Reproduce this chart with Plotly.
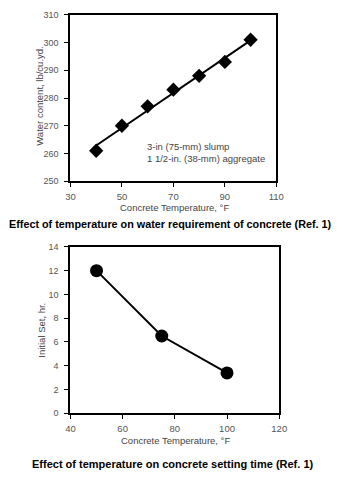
import plotly.graph_objects as go

# Top chart: water requirement
temp_water = [40, 50, 60, 70, 80, 90, 100]
water_content = [261, 270, 277, 283, 288, 293, 301]
trend_x = [40, 100]
trend_y = [262.9, 300.8]

# Bottom chart: setting time
temp_set = [50, 75, 100]
initial_set = [12, 6.5, 3.4]

FONT = "Liberation Sans, Arial, sans-serif"
TICKC = "#555555"

fig = go.Figure()
fig.add_trace(go.Scatter(x=trend_x, y=trend_y, mode="lines",
                         line=dict(color="black", width=2), xaxis="x", yaxis="y",
                         showlegend=False, hoverinfo="skip"))
fig.add_trace(go.Scatter(x=temp_water, y=water_content, mode="markers",
                         marker=dict(symbol="diamond", size=11, color="black"),
                         xaxis="x", yaxis="y", showlegend=False))
fig.add_trace(go.Scatter(x=temp_set, y=initial_set, mode="lines+markers",
                         line=dict(color="black", width=2),
                         marker=dict(symbol="circle", size=13, color="black"),
                         xaxis="x2", yaxis="y2", showlegend=False))

ax_common = dict(showline=True, linewidth=2, linecolor="black", mirror=True,
                 ticks="outside", ticklen=4, tickcolor="black", tickwidth=1,
                 showgrid=False, zeroline=False)
xfont = dict(family=FONT, size=9.5, color=TICKC)
yfont = dict(family=FONT, size=9, color=TICKC)

fig.update_layout(
    width=344, height=480,
    margin=dict(l=0, r=0, t=0, b=0),
    paper_bgcolor="white", plot_bgcolor="white",
    xaxis=dict(domain=[68/344, 282/344], range=[30, 110], tickvals=[30, 50, 70, 90, 110],
               anchor="y", ticklabelstandoff=1, tickfont=xfont, **ax_common),
    yaxis=dict(domain=[1-180/480, 1-10/480], range=[250, 310], dtick=10,
               anchor="x", ticklabelstandoff=4, tickfont=yfont, **ax_common),
    xaxis2=dict(domain=[68/344, 285/344], range=[40, 120], dtick=20,
                anchor="y2", ticklabelstandoff=1, tickfont=xfont, **ax_common),
    yaxis2=dict(domain=[1-417/480, 1-247/480], range=[0, 14], dtick=2,
                anchor="x2", ticklabelstandoff=4, tickfont=yfont, **ax_common),
)

def ann(text, x, y, size=9.5, color="#444444", bold=False, angle=0, xanchor="center"):
    fig.add_annotation(text=("<b>%s</b>" % text) if bold else text,
                       x=x/344, y=1-y/480, xref="paper", yref="paper",
                       showarrow=False, textangle=angle, xanchor=xanchor, yanchor="middle",
                       font=dict(family=FONT, size=size, color=color))

ann("Water content, lb/cu.yd.", 35, 93, angle=-90)
ann("Concrete Temperature, °F", 176, 207)
ann("3-in (75-mm) slump", 146, 144, xanchor="left")
ann("1 1/2-in. (38-mm) aggregate", 146, 157, xanchor="left")
ann("Effect of temperature on water requirement of concrete (Ref. 1)", 172, 224,
    size=10.8, color="black", bold=True)

ann("Initial Set, hr.", 37, 332, angle=-90)
ann("Concrete Temperature, °F", 177, 445)
ann("Effect of temperature on concrete setting time (Ref. 1)", 174, 469,
    size=11, color="black", bold=True)

fig.write_html("out.html")
